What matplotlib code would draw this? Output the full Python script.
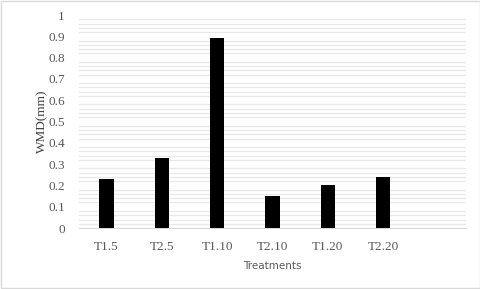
import numpy as np
import matplotlib
matplotlib.use("Agg")
import matplotlib.pyplot as plt
from matplotlib.patches import Rectangle

# data
treatments = ["T1.5", "T2.5", "T1.10", "T2.10", "T1.20", "T2.20", ""]
wmd = [0.23, 0.33, 0.89, 0.15, 0.20, 0.24, 0.0]
y_ticks = [0, 0.1, 0.2, 0.3, 0.4, 0.5, 0.6, 0.7, 0.8, 0.9, 1]

fig = plt.figure(figsize=(4.81, 2.89), dpi=100)
ax = fig.add_axes([0.164, 0.211, 0.805, 0.737])

x = np.arange(len(treatments))
ax.bar(x[:6], wmd[:6], width=0.26, color="black", zorder=3)

ax.set_xlim(-0.5, len(treatments) - 0.5)
ax.set_ylim(0, 1)
ax.set_yticks(y_ticks)
ax.set_yticklabels([f"{v:g}" for v in y_ticks])
# minor grid every 0.02, but not on the 0.1 steps (as in the original)
minor = [round(v, 2) for v in np.arange(0.02, 1.0, 0.02) if round(v * 50) % 5 != 0]
ax.set_yticks(minor, minor=True)
ax.set_xticks(x)
ax.set_xticklabels(treatments)

ax.grid(axis="y", which="minor", color="#e8e8e8", linewidth=0.9, zorder=0)
for s in ["top", "right", "left"]:
    ax.spines[s].set_visible(False)
ax.spines["bottom"].set_color("#d9d9d9")
ax.tick_params(axis="both", which="both", length=0)
ax.tick_params(axis="y", pad=10)
ax.tick_params(axis="x", pad=9)

for lab in ax.get_xticklabels() + ax.get_yticklabels():
    lab.set_fontfamily("Liberation Serif")
    lab.set_fontsize(9.5)
    lab.set_color("#595959")

ax.set_ylabel("WMD(mm)", family="Liberation Serif", fontsize=9.5, color="#404040", labelpad=0)
ax.set_xlabel("Treatments", family="DejaVu Sans", fontsize=7.5, color="#595959", labelpad=6)

fig.patches.append(Rectangle((0.002, 0.003), 0.996, 0.994, transform=fig.transFigure,
                             fill=False, edgecolor="#d9d9d9", linewidth=1))

fig.savefig("out.png", dpi=100)
